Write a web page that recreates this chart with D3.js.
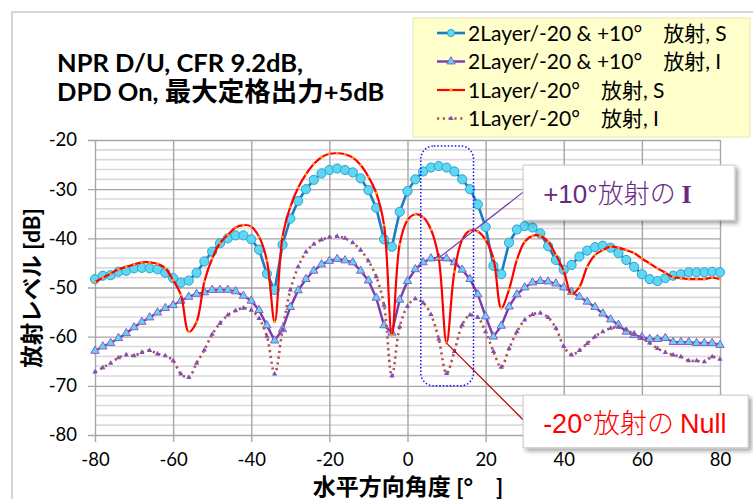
<!DOCTYPE html>
<html>
<head>
<meta charset="utf-8">
<script src="https://cdn.jsdelivr.net/npm/d3@7/dist/d3.min.js"></script>
<style>
body { margin: 0; background: #fff; }
text { font-family: Lato, "Noto Sans CJK JP", sans-serif; }
</style>
</head>
<body>
<div id="chart"></div>
<script>
// angles (deg) and levels (dB)
const angles = d3.range(-80, 81, 2);

const twoLayerS = [
	-48.3, -47.6, -47.5, -46.8, -46.6, -46.1, -46.0, -46.1, -46.3, -47.0,
	-48.1, -49.0, -48.6, -47.0, -44.7, -42.7, -41.0, -40.0, -39.4, -39.4,
	-40.2, -42.3, -47.2, -50.5, -41.3, -36.0, -32.4, -30.0, -28.1, -26.8,
	-26.1, -25.8, -26.1, -26.6, -27.8, -30.2, -33.8, -40.2, -41.7, -34.6,
	-30.4, -28.0, -26.4, -25.6, -25.3, -25.6, -26.4, -28.0, -30.0, -33.1,
	-37.7, -45.6, -47.3, -40.9, -38.2, -37.5, -37.8, -39.0, -41.6, -44.4,
	-46.4, -45.4, -43.7, -42.5, -41.8, -41.5, -41.9, -43.0, -44.4, -45.8,
	-47.3, -48.3, -48.7, -48.1, -47.6, -47.3, -46.9, -46.9, -46.9, -46.8,
	-46.9
];

const twoLayerI = [
	-62.9, -62.0, -61.3, -60.3, -59.3, -58.1, -57.0, -56.1, -55.1, -54.2,
	-53.6, -52.7, -51.9, -51.3, -51.0, -50.5, -50.5, -50.5, -50.8, -51.7,
	-52.7, -54.6, -57.7, -60.8, -58.5, -54.0, -50.6, -48.3, -46.6, -45.3,
	-44.6, -44.2, -44.5, -44.9, -46.6, -48.6, -52.1, -57.7, -59.2, -52.5,
	-48.7, -46.3, -44.9, -44.1, -44.0, -44.1, -44.9, -46.4, -48.3, -51.4,
	-55.9, -60.0, -57.8, -53.9, -51.4, -50.0, -49.0, -48.7, -48.8, -49.2,
	-50.0, -50.9, -51.9, -52.9, -54.0, -55.3, -56.5, -57.6, -59.0, -59.7,
	-60.1, -60.5, -60.5, -60.3, -61.1, -61.1, -61.1, -61.3, -61.3, -61.3,
	-61.7
];

const oneLayerS = [
	-48.9, -48.0, -47.2, -46.3, -45.8, -45.3, -44.9, -44.9, -45.2, -46.1,
	-48.5, -51.5, -59.0, -57.0, -48.8, -44.1, -41.0, -39.3, -37.8, -37.3,
	-37.6, -39.7, -44.5, -57.0, -39.7, -33.6, -29.7, -27.0, -24.9, -23.5,
	-22.8, -22.7, -22.9, -23.6, -25.1, -27.5, -30.8, -37.3, -59.7, -41.2,
	-36.3, -35.1, -35.7, -38.2, -44.1, -61.3, -46.8, -40.3, -38.4, -38.6,
	-40.3, -44.1, -54.2, -50.4, -44.4, -40.7, -39.5, -39.5, -40.7, -43.4,
	-46.6, -51.3, -49.9, -45.8, -43.4, -42.4, -41.7, -41.9, -42.4, -43.0,
	-44.1, -45.1, -46.1, -47.0, -47.9, -48.1, -48.3, -48.3, -48.3, -48.0,
	-48.3
];

const oneLayerI = [
	-67.2, -66.3, -65.4, -64.3, -63.7, -63.9, -63.2, -62.8, -63.5, -63.9,
	-64.9, -67.6, -68.3, -65.4, -62.7, -59.5, -57.3, -55.6, -54.7, -54.2,
	-54.6, -56.3, -59.9, -67.6, -58.6, -50.5, -45.8, -42.8, -41.2, -40.3,
	-39.8, -39.6, -40.0, -40.9, -42.4, -44.6, -47.8, -53.6, -68.0, -58.0,
	-53.8, -52.3, -53.1, -55.5, -60.5, -67.5, -63.0, -57.6, -55.6, -56.1,
	-59.0, -63.0, -66.2, -62.4, -59.0, -56.6, -55.5, -55.2, -56.1, -58.3,
	-62.0, -63.7, -62.8, -61.4, -60.0, -59.0, -58.3, -58.1, -58.6, -59.5,
	-60.3, -61.3, -62.4, -63.2, -63.7, -64.1, -64.9, -64.9, -65.1, -64.1,
	-64.6
];

const seriesNames = [
	"2Layer/-20 & +10°\u3000放射, S",
	"2Layer/-20 & +10°\u3000放射, I",
	"1Layer/-20°\u3000放射, S",
	"1Layer/-20°\u3000放射, I"
];

const xTicks = [-80, -60, -40, -20, 0, 20, 40, 60, 80];
const yTicks = [-80, -70, -60, -50, -40, -30, -20];
const yMinor = d3.range(-78, -20, 2);

const titleLine1 = "NPR D/U, CFR 9.2dB,";
const titleLine2 = ["DPD On, ", "最大定格出力", "+5dB"];
const yTitle = "放射レベル [dB]";
const xTitle = "水平方向角度 [°\u3000]";

var W = 753, H = 499;

var svg = d3.select("#chart").append("svg")
	.attr("width", W)
	.attr("height", H);

var defs = svg.append("defs");
var shadow = defs.append("filter").attr("id", "shadow")
	.attr("x", "-10%").attr("y", "-10%").attr("width", "130%").attr("height", "140%");
shadow.append("feDropShadow")
	.attr("dx", 3).attr("dy", 3).attr("stdDeviation", 2)
	.attr("flood-color", "#000").attr("flood-opacity", 0.35);

// chart area frame
svg.append("rect")
	.attr("x", 12).attr("y", 12)
	.attr("width", W).attr("height", H)
	.attr("fill", "#fff")
	.attr("stroke", "#c8c8c8")
	.attr("stroke-width", 1.5);

var x = d3.scaleLinear().domain([-80, 80]).range([95, 720]);
var y = d3.scaleLinear().domain([-80, -20]).range([435, 140]);
var plotW = x(80) - x(-80), plotH = y(-80) - y(-20);

// minor gridlines
svg.append("g").selectAll("line")
	.data(yMinor.filter(d => d % 10 !== 0))
	.enter().append("line")
	.attr("x1", x(-80)).attr("x2", x(80))
	.attr("y1", d => y(d)).attr("y2", d => y(d))
	.attr("stroke", "#dadada")
	.attr("stroke-width", 1.6);

// axes, ticks stretched into gridlines
var yAxis = d3.axisLeft(y).tickValues(yTicks).tickFormat(d => String(d));
var xAxis = d3.axisBottom(x).tickValues(xTicks).tickFormat(d => String(d));

var gy = svg.append("g")
	.attr("transform", "translate(" + x(-80) + ",0)")
	.call(yAxis);
gy.selectAll(".tick line").attr("x1", -7).attr("x2", plotW);
gy.selectAll(".tick text").attr("x", -18);

var gx = svg.append("g")
	.attr("transform", "translate(0," + y(-80) + ")")
	.call(xAxis);
gx.selectAll(".tick line").attr("y1", -plotH).attr("y2", 7);
gx.selectAll(".tick text").attr("y", 18);

[gx, gy].forEach(function (g) {
	g.select(".domain").remove();
	g.selectAll(".tick line").attr("stroke", "#a6a6a6").attr("stroke-width", 1.4);
	g.selectAll(".tick text")
		.attr("fill", "#000")
		.style("font-family", "Lato, sans-serif")
		.style("font-size", "18.5px");
});

// series
var pts = s => angles.map((a, i) => [a, s[i]]);

var lineLin = d3.line().x(d => x(d[0])).y(d => y(d[1]));
var lineSmooth = d3.line().x(d => x(d[0])).y(d => y(d[1])).curve(d3.curveCatmullRom.alpha(0.5));

var plot = svg.append("g");

// 2Layer S
plot.append("path").datum(pts(twoLayerS))
	.attr("d", lineLin).attr("fill", "none")
	.attr("stroke", "#1a7cc6").attr("stroke-width", 2.6);
plot.append("g").selectAll("circle").data(pts(twoLayerS)).enter()
	.append("circle")
	.attr("cx", d => x(d[0])).attr("cy", d => y(d[1])).attr("r", 4.6)
	.attr("fill", "#5fd6f2").attr("stroke", "#2aa3cf").attr("stroke-width", 1);

// 2Layer I
var tri = d3.symbol().type(d3.symbolTriangle).size(30);
plot.append("path").datum(pts(twoLayerI))
	.attr("d", lineLin).attr("fill", "none")
	.attr("stroke", "#7a3ab0").attr("stroke-width", 2.4);
plot.append("g").selectAll("path").data(pts(twoLayerI)).enter()
	.append("path")
	.attr("d", tri)
	.attr("transform", d => "translate(" + x(d[0]) + "," + y(d[1]) + ")")
	.attr("fill", "#5fd6f2").attr("stroke", "#8d5cc8").attr("stroke-width", 1);

// 1Layer S
plot.append("path").datum(pts(oneLayerS))
	.attr("d", lineSmooth).attr("fill", "none")
	.attr("stroke", "#ff0000").attr("stroke-width", 2.2);
plot.append("g").selectAll("circle").data(pts(oneLayerS)).enter()
	.append("circle")
	.attr("cx", d => x(d[0])).attr("cy", d => y(d[1])).attr("r", 1.3)
	.attr("fill", "#ffa21a").attr("stroke", "none");

// 1Layer I
var triSmall = d3.symbol().type(d3.symbolTriangle).size(12);
plot.append("path").datum(pts(oneLayerI))
	.attr("d", lineSmooth).attr("fill", "none")
	.attr("stroke", "#b4504c").attr("stroke-width", 2.6)
	.attr("stroke-dasharray", "2.2,3.6");
plot.append("g").selectAll("path").data(pts(oneLayerI)).enter()
	.append("path")
	.attr("d", triSmall)
	.attr("transform", d => "translate(" + x(d[0]) + "," + y(d[1]) + ")")
	.attr("fill", "#7b52b8");

// highlight around the +10 deg lobe
svg.append("rect")
	.attr("x", x(3.4)).attr("y", y(-21.2))
	.attr("width", x(16.9) - x(3.4)).attr("height", y(-70) - y(-21.2))
	.attr("rx", 13).attr("ry", 13)
	.attr("fill", "none").attr("stroke", "#1010ff")
	.attr("stroke-width", 1.5).attr("stroke-dasharray", "1.5,2");

// callouts
var callouts = [
	{ at: [8, -44.0], box: [29.6, -25.1, 83.8, -36.3], join: -30.6, lineColor: "#7a3ab0" },
	{ at: [10, -61.3], box: [29.6, -71.9, 87.2, -82.6], join: -76.9, lineColor: "#c00000" }
];

callouts.forEach(function (c) {
	svg.append("line")
		.attr("x1", x(c.at[0])).attr("y1", y(c.at[1]))
		.attr("x2", x(c.box[0])).attr("y2", y(c.join))
		.attr("stroke", c.lineColor).attr("stroke-width", 1.2);
	svg.append("rect")
		.attr("x", x(c.box[0])).attr("y", y(c.box[1]))
		.attr("width", x(c.box[2]) - x(c.box[0]))
		.attr("height", y(c.box[3]) - y(c.box[1]))
		.attr("fill", "#fff").attr("stroke", "#c8c8c8")
		.attr("filter", "url(#shadow)");
});

var t1 = svg.append("text")
	.attr("x", x(29.6) + 20).attr("y", y(-25.1) + 38)
	.attr("fill", "#6a2a82")
	.style("font-size", "26px");
t1.append("tspan").style("font-family", "Liberation Sans, sans-serif").text("+10°");
t1.append("tspan").style("font-family", "Noto Sans CJK JP").style("font-weight", 300).text("放射の ");
t1.append("tspan").style("font-family", "Liberation Serif, serif").style("font-weight", "bold").text("I");

var t2 = svg.append("text")
	.attr("x", x(29.6) + 20).attr("y", y(-71.9) + 38)
	.attr("fill", "#ff0000")
	.style("font-size", "27px");
t2.append("tspan").style("font-family", "Liberation Sans, sans-serif").text("-20°");
t2.append("tspan").style("font-family", "Noto Sans CJK JP").style("font-weight", 300).text("放射の ");
t2.append("tspan").style("font-family", "Liberation Sans, sans-serif").text("Null");

// title
svg.append("text")
	.attr("x", 57).attr("y", 72)
	.style("font-size", "25.5px").style("font-weight", "bold")
	.text(titleLine1);
var tl2 = svg.append("text")
	.attr("x", 57).attr("y", 101)
	.style("font-size", "25.5px").style("font-weight", "bold");
tl2.append("tspan").text(titleLine2[0]);
tl2.append("tspan").style("font-size", "26.5px").text(titleLine2[1]);
tl2.append("tspan").text(titleLine2[2]);

// axis titles
svg.append("text")
	.attr("transform", "translate(40,288) rotate(-90)")
	.attr("text-anchor", "middle")
	.style("font-size", "22.5px").style("font-weight", "bold")
	.text(yTitle);

svg.append("text")
	.attr("x", 408).attr("y", 495)
	.attr("text-anchor", "middle")
	.style("font-size", "23px").style("font-weight", "bold")
	.text(xTitle);

// legend
var legend = svg.append("g");
legend.append("rect")
	.attr("x", 413).attr("y", 18).attr("width", 337).attr("height", 119)
	.attr("fill", "#ffffcc").attr("stroke", "#e6e6b4");

var rows = legend.selectAll(".row").data(seriesNames).enter()
	.append("g").attr("class", "row")
	.attr("transform", (d, i) => "translate(0," + (33 + i * 28.5) + ")");

rows.append("text")
	.attr("x", 468).attr("y", 7.5)
	.style("font-size", "21px")
	.text(d => d);

var r = rows.nodes().map(n => d3.select(n));
r[0].append("line").attr("x1", 437).attr("x2", 465).attr("stroke", "#1a7cc6").attr("stroke-width", 2.6);
r[0].append("circle").attr("cx", 451).attr("r", 3.6).attr("fill", "#5fd6f2").attr("stroke", "#2aa3cf");
r[1].append("line").attr("x1", 437).attr("x2", 465).attr("stroke", "#7a3ab0").attr("stroke-width", 2.4);
r[1].append("path").attr("d", tri).attr("transform", "translate(451,0)").attr("fill", "#5fd6f2").attr("stroke", "#8d5cc8");
r[2].append("line").attr("x1", 437).attr("x2", 465).attr("stroke", "#ff0000").attr("stroke-width", 2.2);
r[2].append("circle").attr("cx", 451).attr("r", 1.6).attr("fill", "#ffa21a");
r[3].append("line").attr("x1", 437).attr("x2", 465).attr("stroke", "#b4504c").attr("stroke-width", 2.6).attr("stroke-dasharray", "2.2,3.6");
r[3].append("path").attr("d", triSmall).attr("transform", "translate(451,0)").attr("fill", "#7b52b8");
</script>
</body>
</html>
